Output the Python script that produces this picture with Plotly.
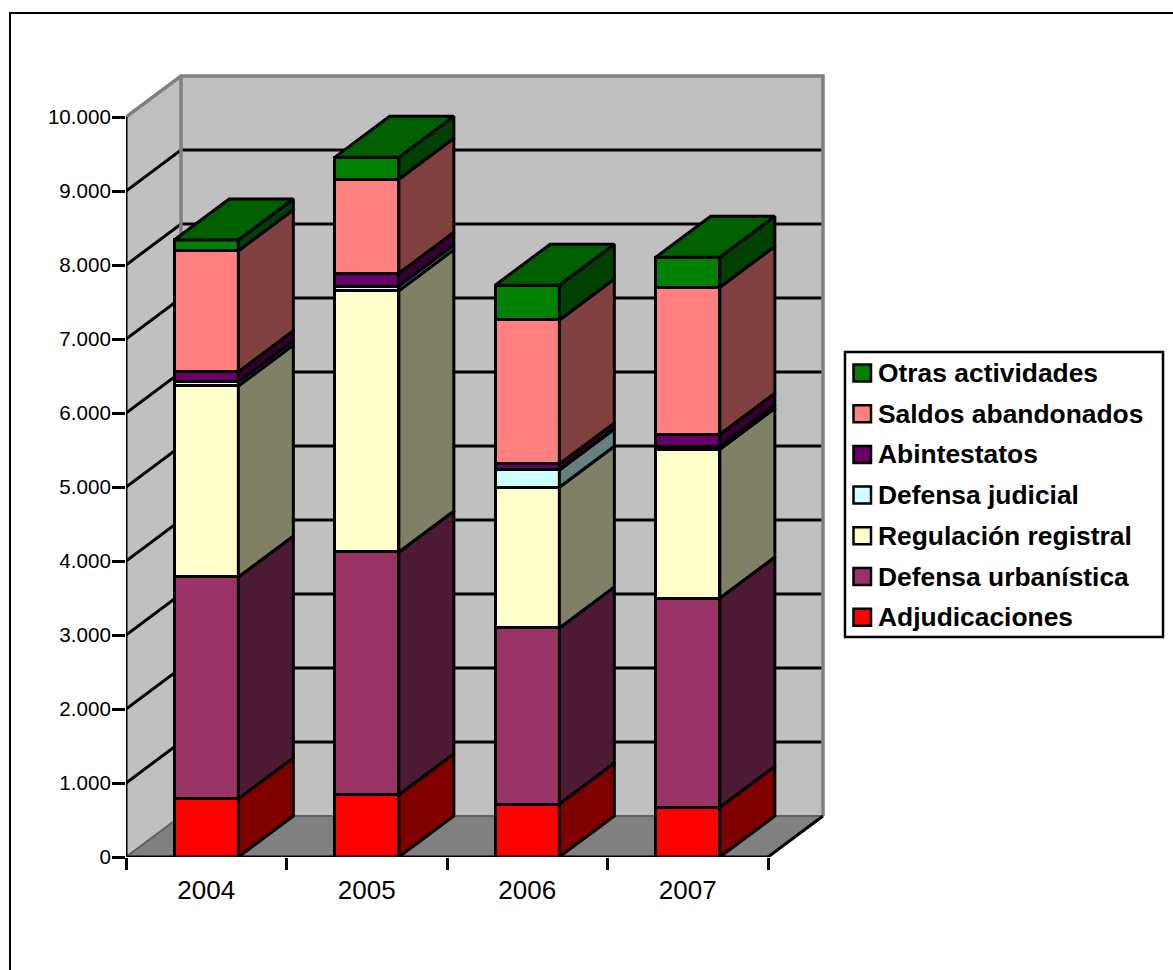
import plotly.graph_objects as go

# ---- data ----
years = ["2004", "2005", "2006", "2007"]
adjudicaciones = [786, 842, 716, 672]
defensa_urbanistica = [2998, 3280, 2379, 2828]
regulacion_registral = [2581, 3531, 1901, 2009]
defensa_judicial = [58, 63, 234, 45]
abintestatos = [135, 172, 81, 158]
saldos_abandonados = [1635, 1270, 1946, 1987]
otras_actividades = [145, 297, 469, 405]

series_names = ["Adjudicaciones", "Defensa urbanística", "Regulación registral",
                "Defensa judicial", "Abintestatos", "Saldos abandonados", "Otras actividades"]
series_values = [adjudicaciones, defensa_urbanistica, regulacion_registral,
                 defensa_judicial, abintestatos, saldos_abandonados, otras_actividades]
front_colors = ["#FF0000", "#993366", "#FFFFCC", "#CCFFFF", "#660066", "#FF8080", "#008000"]
side_colors = ["#800000", "#4D1A33", "#808066", "#668080", "#330033", "#804040", "#004000"]
top_color = "#006000"

y_ticks = list(range(0, 10001, 1000))
y_labels = ["0", "1.000", "2.000", "3.000", "4.000", "5.000", "6.000", "7.000", "8.000", "9.000", "10.000"]

# ---- geometry of the pseudo-3D box ----
W, H = 1173, 970
X0_PX, Y0_PX = 126, 857
PX_PER_CAT, PX_PER_UNIT = 160.5, 0.074
RIGHT_PX, TOP_PX = 835, 65
DX = 55 / PX_PER_CAT
DY = 41 / PX_PER_UNIT
BAR_W = 0.40
XMAX = (RIGHT_PX - X0_PX) / PX_PER_CAT
YMAX = (Y0_PX - TOP_PX) / PX_PER_UNIT
n = len(years)
YTOP = y_ticks[-1]
LW = 3
GRAY = "#808080"
WALL = "#C0C0C0"


def px(x):
    return (x - X0_PX) / (RIGHT_PX - X0_PX)


def py(y):
    return (Y0_PX - y) / (Y0_PX - TOP_PX)


def poly(points):
    return "M" + "L".join(f"{a},{b}" for a, b in points) + "Z"


shapes = []


def data_shape(path, fill=None, color=None, width=LW):
    shapes.append(dict(type="path", xref="x", yref="y", layer="below", path=path,
                       fillcolor=fill or "rgba(0,0,0,0)",
                       line=dict(color=color or "rgba(0,0,0,0)", width=width if color else 0)))


# walls and floor
data_shape(poly([(DX, DY), (DX + n, DY), (DX + n, DY + YTOP), (DX, DY + YTOP)]), WALL)
data_shape(poly([(0, 0), (DX, DY), (DX, DY + YTOP), (0, YTOP)]), WALL)
data_shape(poly([(0, 0), (DX, DY), (DX + n, DY), (n, 0)]), GRAY)
# grid lines
for v in y_ticks[1:-1]:
    data_shape(f"M0,{v}L{DX},{v + DY}L{DX + n},{v + DY}", color="#000000")
# wall edges
data_shape(f"M0,{YTOP}L{DX},{YTOP + DY}L{DX + n},{YTOP + DY}L{DX + n},{DY}", color=GRAY, width=3.5)
data_shape(f"M{DX},{YTOP + DY}L{DX},{DY}", color=GRAY, width=3.5)
data_shape(f"M0,0L{DX},{DY}L{DX + n},{DY}", color="#606060", width=2)
data_shape(f"M{n},0L{DX + n},{DY}", color="#000000")

# ---- traces ----
fig = go.Figure()
positions = [i + 0.5 for i in range(n)]
for name, vals, col in zip(series_names, series_values, front_colors):
    fig.add_trace(go.Bar(x=positions, y=vals, name=name, width=BAR_W, showlegend=False,
                         marker=dict(color=col, line=dict(color="#000000", width=LW)),
                         cliponaxis=False, hoverinfo="name+y"))

base = [0] * n
for name, vals, col in zip(series_names, series_values, side_colors):
    xs, ys = [], []
    for i in range(n):
        xr = positions[i] + BAR_W / 2
        b, t = base[i], base[i] + vals[i]
        xs += [xr, xr + DX, xr + DX, xr, xr, None]
        ys += [b, b + DY, t + DY, t, b, None]
        base[i] = t
    fig.add_trace(go.Scatter(x=xs, y=ys, mode="lines", fill="toself", fillcolor=col,
                             line=dict(color="#000000", width=LW), showlegend=False,
                             hoverinfo="skip", cliponaxis=False))

xs, ys = [], []
for i in range(n):
    xl, xr = positions[i] - BAR_W / 2, positions[i] + BAR_W / 2
    t = base[i]
    xs += [xl, xl + DX, xr + DX, xr, xl, None]
    ys += [t, t + DY, t + DY, t, t, None]
fig.add_trace(go.Scatter(x=xs, y=ys, mode="lines", fill="toself", fillcolor=top_color,
                         line=dict(color="#000000", width=LW), showlegend=False,
                         hoverinfo="skip", cliponaxis=False))

# axis lines (only as long as the scale, the plot box is larger)
fig.add_trace(go.Scatter(x=[0, 0, None, 0, n], y=[0, YTOP, None, 0, 0], mode="lines",
                         line=dict(color="#000000", width=LW), showlegend=False,
                         hoverinfo="skip", cliponaxis=False))

# ---- frame and legend (page pixels) ----
shapes.append(dict(type="rect", xref="paper", yref="paper", layer="above",
                   x0=px(10), x1=px(1190), y0=py(13), y1=py(990), fillcolor="rgba(0,0,0,0)",
                   line=dict(color="#000000", width=2)))
shapes.append(dict(type="rect", xref="paper", yref="paper", layer="above",
                   x0=px(845), x1=px(1163), y0=py(352), y1=py(637), fillcolor="#FFFFFF",
                   line=dict(color="#000000", width=2.5)))
annotations = []
order = list(range(len(series_names)))[::-1]
for row, k in enumerate(order):
    cy = 373 + row * 40.7
    shapes.append(dict(type="rect", xref="paper", yref="paper", layer="above",
                       x0=px(853.5), x1=px(871), y0=py(cy - 8.5), y1=py(cy + 8.5),
                       fillcolor=front_colors[k], line=dict(color="#000000", width=2.5)))
    annotations.append(dict(xref="paper", yref="paper", x=px(877), y=py(cy),
                            text="<b>" + series_names[k] + "</b>",
                            showarrow=False, xanchor="left", yanchor="middle", align="left",
                            xshift=-1, font=dict(family="Liberation Sans", size=26.4, color="#000000")))

fig.update_layout(
    width=W, height=H, autosize=False, barmode="stack", showlegend=False,
    margin=dict(l=X0_PX, r=W - RIGHT_PX, t=TOP_PX, b=H - Y0_PX, pad=0),
    paper_bgcolor="#FFFFFF", plot_bgcolor="rgba(0,0,0,0)",
    shapes=shapes, annotations=annotations,
    font=dict(family="Liberation Sans", color="#000000"),
    xaxis=dict(range=[0, XMAX], tickmode="array", tickvals=positions, ticktext=years,
               ticks="", showgrid=False, zeroline=False, showline=False,
               ticklabelstandoff=15, tickfont=dict(size=26, color="#000000"),
               minor=dict(tickmode="array", tickvals=list(range(n + 1)), ticks="outside",
                          ticklen=12, tickwidth=LW, tickcolor="#000000", showgrid=False)),
    yaxis=dict(range=[0, YMAX], tickmode="array", tickvals=y_ticks, ticktext=y_labels,
               ticks="outside", ticklen=13, tickwidth=LW, tickcolor="#000000",
               ticklabelstandoff=-3,
               showgrid=False, zeroline=False, showline=False,
               tickfont=dict(size=20.6, color="#000000")),
)

fig.write_html("out.html", config={"displayModeBar": False},
               post_script="document.body.style.margin='0';document.body.style.overflow='hidden';")
